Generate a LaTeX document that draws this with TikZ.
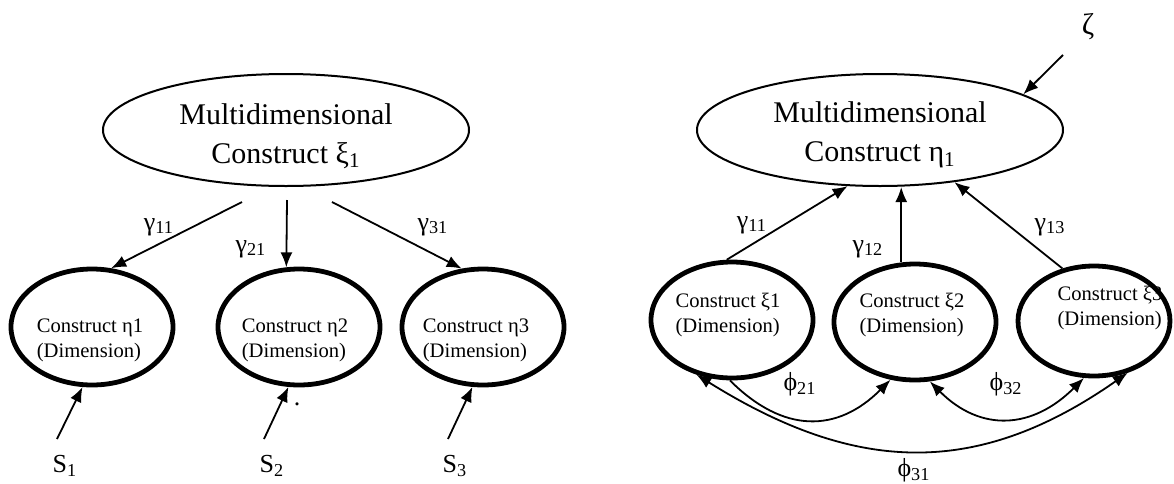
\documentclass[tikz,border=0pt]{standalone}
\usepackage{fontspec}
\setmainfont{Liberation Serif}
\usetikzlibrary{shapes.geometric,arrows.meta}

\tikzset{
  bigconstruct/.style={draw, ellipse, line width=1pt, minimum width=183pt, minimum height=56pt, inner sep=0pt},
  bigtext/.style={align=center, inner sep=0pt, font=\fontsize{15}{19.5}\selectfont},
  dimension/.style={draw, ellipse, line width=2.4pt, minimum width=81pt, minimum height=58pt, inner sep=0pt},
  dimtext/.style={align=left, inner sep=0pt, font=\fontsize{10.3}{12.5}\selectfont},
  coef/.style={inner sep=0pt, font=\fontsize{13}{13}\selectfont},
  link/.style={-{Latex[length=7.5pt,width=6pt]}, line width=0.9pt},
  twolink/.style={{Latex[length=7.5pt,width=6pt]}-{Latex[length=7.5pt,width=6pt]}, line width=0.9pt},
}

\begin{document}
\begin{tikzpicture}[x=0.5pt,y=-0.5pt]
\useasboundingbox (0,0) rectangle (1174,483);

% Left: second-order factor model
\node[bigconstruct] (mxi) at (286,130) {};
\node[bigtext] (tmxi) at (286,136) {Multidimensional\\Construct ξ\textsubscript{1}};

\node[dimension] (eta1) at (92,327) {};
\node[dimension] (eta2) at (299,327) {};
\node[dimension] (eta3) at (483,327) {};
\node[dimtext] (teta1) at (90,340) {Construct η1\\(Dimension)};
\node[dimtext] (teta2) at (295,340) {Construct η2\\(Dimension)};
\node[dimtext] (teta3) at (476,340) {Construct η3\\(Dimension)};

% loadings
\coordinate (l1) at (242,202);
\coordinate (l2) at (287,200);
\coordinate (l3) at (332,202);
\draw[link] (l1) -- (eta1.72);
\draw[link] (l2) -- (eta2.102);
\draw[link] (l3) -- (eta3.110);
\node[coef] (g11) at (159,227) {γ\textsubscript{11}};
\node[coef] (g21) at (251,249) {γ\textsubscript{21}};
\node[coef] (g31) at (433,227) {γ\textsubscript{31}};

% specific parts
\coordinate (d1) at (57,439);
\coordinate (d2) at (264,439);
\coordinate (d3) at (448,439);
\draw[link] (d1) -- (eta1.261);
\draw[link] (d2) -- (eta2.260);
\draw[link] (d3) -- (eta3.260);
\node[coef] (s1) at (65,466) {S\textsubscript{1}};
\node[coef] (s2) at (272,466) {S\textsubscript{2}};
\node[coef] (s3) at (455,466) {S\textsubscript{3}};
\node[coef] (dot) at (297,404) {.};

% Right: formative model
\node[bigconstruct] (meta) at (880,130) {};
\node[bigtext] (tmeta) at (880,135) {Multidimensional\\Construct η\textsubscript{1}};

\node[dimension] (xi1) at (732,320) {};
\node[dimension] (xi2) at (915,322) {};
\node[dimension, minimum width=76pt, minimum height=55pt] (xi3) at (1094,321) {};
\node[dimtext] (txi1) at (728,315) {Construct ξ1\\(Dimension)};
\node[dimtext] (txi2) at (912,315) {Construct ξ2\\(Dimension)};
\node[dimtext] (txi3) at (1110,308) {Construct ξ3\\(Dimension)};

\draw[link] (xi1.95) -- (meta.240);
\draw[link] (xi2.103) -- (xi2.103 |- meta.south);
\draw[link] (xi3.121) -- (meta.325);
\node[coef] (h11) at (752,225) {γ\textsubscript{11}};
\node[coef] (h12) at (868,249) {γ\textsubscript{12}};
\node[coef] (h13) at (1050,227) {γ\textsubscript{13}};

% disturbance
\node[coef, font=\fontsize{15}{15}\selectfont] (zeta) at (1088,27) {ζ};
\coordinate (zt) at (1063,55);
\draw[link] (zt) -- (meta.14);

% correlations
\draw[link] (xi1.268) to[out=-45,in=-135,looseness=1.2] (xi2.247);
\draw[twolink] (xi2.284) to[out=-45,in=-135,looseness=1.2] (xi3.260);
\draw[twolink] (xi1.237) to[out=-32,in=-145,looseness=1.1] (xi3.303);
\node[coef] (f21) at (800,384) {ϕ\textsubscript{21}};
\node[coef] (f32) at (1006,384) {ϕ\textsubscript{32}};
\node[coef] (f31) at (914,470) {ϕ\textsubscript{31}};

\end{tikzpicture}
\end{document}
